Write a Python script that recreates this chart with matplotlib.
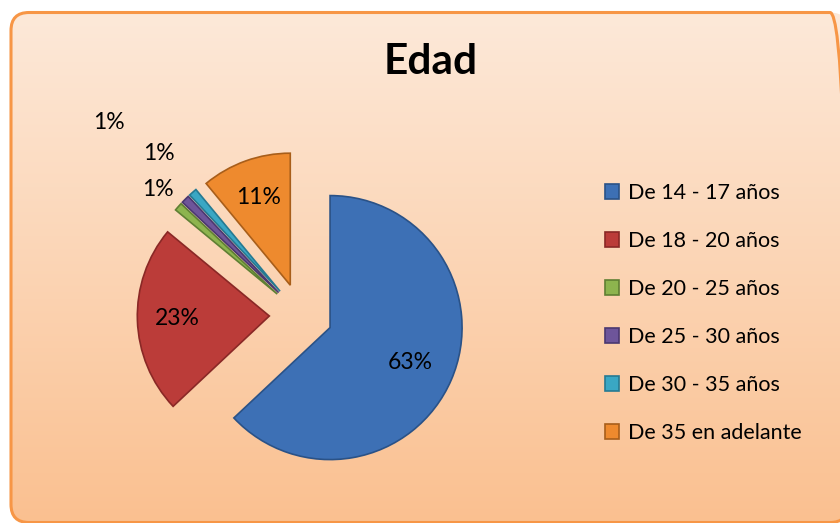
import matplotlib
matplotlib.use("Agg")
import matplotlib.pyplot as plt
import numpy as np
from matplotlib.patches import FancyBboxPatch
from matplotlib.colors import LinearSegmentedColormap

# ---- data ----
categories = ["De 14 - 17 años", "De 18 - 20 años", "De 20 - 25 años",
              "De 25 - 30 años", "De 30 - 35 años", "De 35 en adelante"]
values = [63, 23, 1, 1, 1, 11]
pct_labels = ["63%", "23%", "1%", "1%", "1%", "11%"]
title = "Edad"

colors = ["#3D70B5", "#BB3C39", "#8DB44E", "#6E559A", "#3AA7C4", "#EE8A2E"]
edges = ["#2A5287", "#8A2826", "#5F7F33", "#4A3870", "#267A92", "#A85E1A"]
explode = [0.24] * 6
label_dist = [0.66, 0.70, 1.44, 2.06, 1.63, 0.71]

W, H = 840, 523
fig = plt.figure(figsize=(W / 100, H / 100), dpi=100)
fig.patch.set_facecolor("white")

# ---- background with gradient & rounded border ----
bg = fig.add_axes([0, 0, 1, 1])
bg.set_xlim(0, W)
bg.set_ylim(0, H)
bg.axis("off")
box = FancyBboxPatch((11, 0.5), 837, 510, boxstyle="round,pad=0,rounding_size=18",
                     fc="none", ec="#F79646", lw=2.2, zorder=3)
bg.add_patch(box)
cmap = LinearSegmentedColormap.from_list("bg", ["#FAC090", "#FDE9D9"])
grad = np.linspace(0, 1, 256).reshape(-1, 1)
im = bg.imshow(grad, cmap=cmap, origin="lower", aspect="auto",
               extent=(11, 848, 0, 511), zorder=1)
im.set_clip_path(box)

# ---- pie ----
R = 132.0
cx, cy = 301.0, H - 315.0
ax = fig.add_axes([0, 0, 1, 1])
ax.set_facecolor("none")
wedges, _ = ax.pie(values, colors=colors, startangle=90, counterclock=False,
                   explode=explode, radius=1,
                   wedgeprops=dict(linewidth=1.2))
for w, ec in zip(wedges, edges):
    w.set_edgecolor(ec)
ax.set_xlim(-cx / R, (W - cx) / R)
ax.set_ylim(-cy / R, (H - cy) / R)
ax.set_aspect("equal")
ax.axis("off")

for w, lab, d in zip(wedges, pct_labels, label_dist):
    ang = np.deg2rad((w.theta1 + w.theta2) / 2)
    if d < 1:
        x0, y0 = w.center
    else:
        x0, y0 = 0, 0
    ax.text(x0 + d * np.cos(ang), y0 + d * np.sin(ang), lab,
            ha="center", va="center", fontsize=16.5, family="Lato", color="black")

fig.text(431 / W, 1 - 62 / H, title, ha="center", va="center",
         fontsize=30.5, fontweight="bold", family="Lato")

leg = fig.legend(wedges, categories, loc="upper left",
                 bbox_to_anchor=(605 / W, 1 - 183 / H),
                 frameon=False, prop=dict(family="Lato", size=15.5),
                 handlelength=0.65, handleheight=0.65, handletextpad=0.42,
                 labelspacing=1.30, borderpad=0, borderaxespad=0)

fig.savefig("out.png", dpi=100)
